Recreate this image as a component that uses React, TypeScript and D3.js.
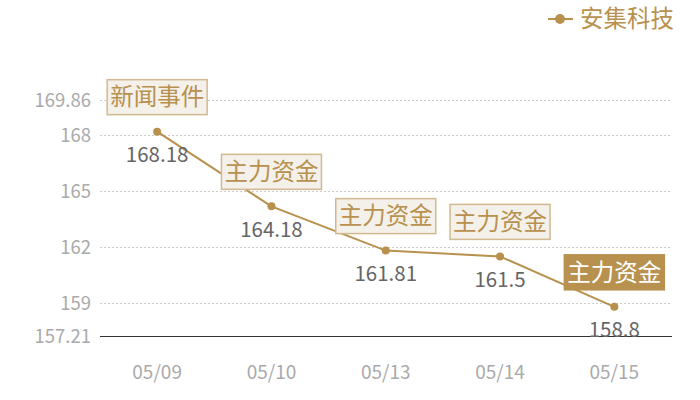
import React from "react";
import * as d3 from "d3";

const categories = ["05/09", "05/10", "05/13", "05/14", "05/15"];
const values = [168.18, 164.18, 161.81, 161.5, 158.8];
const annotations = ["新闻事件", "主力资金", "主力资金", "主力资金", "主力资金"];
const yTicks = [157.21, 159, 162, 165, 168, 169.86];
const seriesName = "安集科技";

const W = 700;
const H = 400;
const gold = "#b8914f";
const font = "'Noto Sans CJK SC', 'Noto Sans', sans-serif";

export default function App() {
  const x = d3.scaleBand<string>().domain(categories).range([100, 671.5]);
  const y = d3.scaleLinear().domain([157.21, 169.86]).range([336.5, 100.3]);
  const cx = (c: string) => (x(c) as number) + x.bandwidth() / 2;
  const line = d3
    .line<number>()
    .x((_, i) => cx(categories[i]))
    .y((d) => y(d));

  return (
    <svg
      width={W}
      height={H}
      style={{ position: "absolute", left: 0, top: 0 }}
      fontFamily={font}
    >
      <rect width={W} height={H} fill="#fff" />
      {yTicks.map((t, i) =>
        i === 0 ? null : (
          <line
            key={t}
            x1={100}
            x2={672}
            y1={Math.round(y(t)) + 0.5}
            y2={Math.round(y(t)) + 0.5}
            stroke="#ccc"
            strokeDasharray="2,2"
          />
        )
      )}
      <line x1={100} x2={672} y1={336.5} y2={336.5} stroke="#333" />
      {yTicks.map((t) => (
        <text
          key={"l" + t}
          x={91}
          y={y(t)}
          dy="0.35em"
          textAnchor="end"
          fontSize={18.5}
          fill="#aaa"
        >
          {t}
        </text>
      ))}
      {categories.map((c) => (
        <text
          key={c}
          x={cx(c)}
          y={372}
          dy="0.35em"
          textAnchor="middle"
          fontSize={19}
          fill="#aaa"
        >
          {c}
        </text>
      ))}
      <path d={line(values) || ""} fill="none" stroke={gold} strokeWidth={2} />
      {values.map((v, i) => (
        <g key={i}>
          <circle cx={cx(categories[i])} cy={y(v)} r={4} fill={gold} />
          <text
            x={cx(categories[i])}
            y={y(v) + 23}
            dy="0.35em"
            textAnchor="middle"
            fontSize={20.5}
            fill="#666"
          >
            {v}
          </text>
        </g>
      ))}
      {values.map((v, i) => {
        const last = i === values.length - 1;
        const bx = cx(categories[i]) - 50;
        const by = y(v) - 17 - 35;
        return (
          <g key={"a" + i}>
            <rect
              x={bx}
              y={by}
              width={100}
              height={35}
              fill={last ? gold : "#f4f0ea"}
              stroke={last ? gold : "#d2b98f"}
              strokeWidth={1.5}
            />
            <text
              x={bx + 50}
              y={by + 17.5}
              dy="0.35em"
              textAnchor="middle"
              fontSize={23.5}
              fill={last ? "#fff" : gold}
            >
              {annotations[i]}
            </text>
          </g>
        );
      })}
      <line x1={548} x2={573} y1={19} y2={19} stroke={gold} strokeWidth={2} />
      <circle cx={560} cy={19} r={5} fill={gold} />
      <text x={580} y={19} dy="0.35em" fontSize={23.5} fill={gold}>
        {seriesName}
      </text>
    </svg>
  );
}
